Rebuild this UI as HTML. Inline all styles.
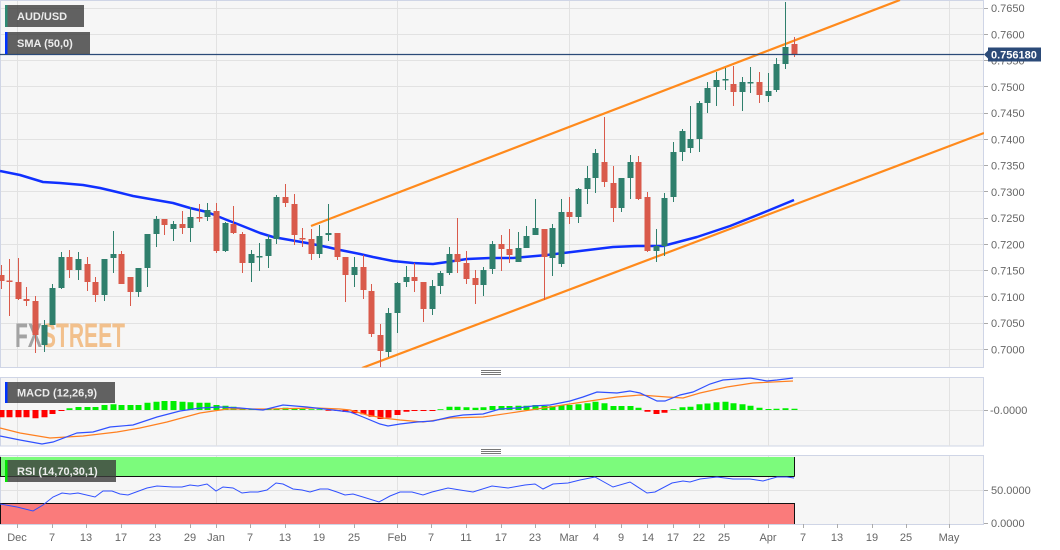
<!DOCTYPE html>
<html><head><meta charset="utf-8"><style>
html,body{margin:0;padding:0;background:#fff;}
svg{display:block;font-family:"Liberation Sans",Arial,sans-serif;}
</style></head><body>
<svg width="1060" height="550" viewBox="0 0 1060 550" xmlns="http://www.w3.org/2000/svg">
<defs>
<clipPath id="cm"><rect x="0" y="0" width="984" height="367.5"/></clipPath>
<clipPath id="cd"><rect x="0" y="377.5" width="984" height="68.5"/></clipPath>
<clipPath id="cr"><rect x="0" y="455.5" width="984" height="69"/></clipPath>
</defs>
<rect x="0" y="0" width="1060" height="550" fill="#fff"/>
<!-- panel backgrounds -->
<rect x="0.5" y="0.5" width="983" height="367" fill="#f6f6f6" stroke="#cfd5e6"/>
<rect x="0.5" y="377.5" width="983" height="68.5" fill="#f6f6f6" stroke="#cfd5e6"/>
<rect x="0.5" y="455.5" width="983" height="69" fill="#f6f6f6" stroke="#cfd5e6"/>
<!-- grid main -->
<g stroke="#e2e2e2" stroke-width="1">
<path d="M1 8.5H983M1 34.5H983M1 60.5H983M1 86.5H983M1 113.5H983M1 139.5H983M1 165.5H983M1 191.5H983M1 218.5H983M1 244.5H983M1 270.5H983M1 296.5H983M1 323.5H983M1 349.5H983"/>
<path d="M17.5 1V367M216.5 1V367M397.5 1V367M569.5 1V367M768.5 1V367M949.5 1V367"/>
<path d="M1 410.5H983M17.5 378V446M216.5 378V446M397.5 378V446M569.5 378V446M768.5 378V446M949.5 378V446"/>
<path d="M1 490.5H983M17.5 456V524M216.5 456V524M397.5 456V524M569.5 456V524M768.5 456V524M949.5 456V524"/>
</g>
<!-- watermark -->
<text x="15" y="347" font-size="34" font-weight="bold" textLength="110" lengthAdjust="spacingAndGlyphs"><tspan fill="#a3a3a3">FX</tspan><tspan fill="#f2c08c">STREET</tspan></text>
<g clip-path="url(#cm)">
<!-- SMA -->
<polyline fill="none" stroke="#1030ff" stroke-width="2.5" stroke-linejoin="round" points="0,171 20,175 43,182 60,183 83,185 100,188 117,192 133,196 150,199 173,203 190,208 207,212 227,220 240,225 250,229 260,233 273,237 290,240 307,243 327,247 340,250 360,254 373,257 393,261 413,263 433,264 447,262 467,259 490,258 513,258 547,255 580,251 613,247 637,246 663,246 697,237 730,226 760,214 794,200"/>
<!-- channel -->
<path d="M311 226L900 0M362 368L984 133" stroke="#ff8a1c" stroke-width="2.2" fill="none"/>
<!-- green candles -->
<path stroke="#2f7f6c" stroke-width="1" fill="none" d="M44.5 320V352M52.5 284V325M61.5 252V289M78.5 252V280M104.5 259V301M113.5 231V273M138.5 268V297M147.5 234V287M156.5 216V247M173.5 221V241M190.5 207V242M207.5 203V221M225.5 222V252M251.5 250V282M259.5 243V271M268.5 235V268M276.5 195V244M319.5 225V258M328.5 204V241M354.5 257V287M388.5 308V357M397.5 282V333M406.5 266V287M432.5 280V315M440.5 271V294M449.5 247V275M483.5 267V296M492.5 241V274M518.5 232V262M526.5 226V248M535.5 199V235M552.5 224V276M561.5 199V267M578.5 188V223M587.5 166V204M595.5 149V193M621.5 178V212M630.5 155V199M656.5 229V262M664.5 193V256M673.5 142V202M682.5 129V161M690.5 106V153M699.5 101V152M707.5 82V113M716.5 72V106M725.5 68V90M742.5 77V111M750.5 67V93M768.5 73V102M776.5 58V92M785.5 2V69"/>
<path fill="#2f7f6c" d="M41.5 325h6v20h-6zM49.5 288h6v37h-6zM58.5 257h6v31h-6zM75.5 259h6v11h-6zM101.5 259h6v36h-6zM110.5 254h6v4h-6zM135.5 268h6v24h-6zM144.5 234h6v34h-6zM153.5 219h6v15h-6zM170.5 224h6v5h-6zM187.5 217h6v11h-6zM204.5 210h6v7h-6zM222.5 223h6v28h-6zM248.5 254h6v9h-6zM256.5 256h6v1.5h-6zM265.5 239h6v17h-6zM273.5 197h6v42h-6zM316.5 236h6v18h-6zM325.5 233h6v2h-6zM351.5 267h6v8h-6zM385.5 313h6v39h-6zM394.5 283h6v30h-6zM403.5 277h6v5h-6zM429.5 286h6v23h-6zM437.5 273h6v13h-6zM446.5 254h6v19h-6zM480.5 270h6v15h-6zM489.5 244h6v25h-6zM515.5 248h6v14h-6zM523.5 236h6v12h-6zM532.5 228h6v7h-6zM549.5 228h6v30h-6zM558.5 212h6v52h-6zM575.5 189h6v28h-6zM584.5 178h6v11h-6zM592.5 153h6v25h-6zM618.5 178h6v30h-6zM627.5 162h6v16h-6zM653.5 246h6v5h-6zM661.5 198h6v48h-6zM670.5 152h6v45h-6zM679.5 131h6v21h-6zM687.5 139h6v9h-6zM696.5 103h6v36h-6zM704.5 88h6v15h-6zM713.5 80h6v7h-6zM722.5 79h6v1.5h-6zM739.5 82h6v10h-6zM747.5 82h6v1.5h-6zM765.5 91h6v5h-6zM773.5 64h6v26h-6zM782.5 47h6v17h-6z"/>
<!-- red candles -->
<path stroke="#d95a4b" stroke-width="1" fill="none" d="M1.5 265V289M9.5 259V316M18.5 258V300M26.5 287V306M35.5 296V353M69.5 250V278M87.5 257V291M95.5 277V302M121.5 251V284M130.5 277V306M164.5 219V235M182.5 211V234M199.5 204V222M216.5 203V253M233.5 206V234M242.5 232V273M285.5 184V207M294.5 194V245M302.5 228V247M311.5 229V260M337.5 233V260M345.5 257V302M363.5 255V299M371.5 284V337M380.5 324V367M414.5 263V292M423.5 282V322M457.5 218V273M466.5 251V284M475.5 270V304M501.5 235V271M509.5 229V263M544.5 229V300M569.5 197V224M604.5 117V187M613.5 166V222M638.5 156V200M647.5 192V252M733.5 66V106M759.5 72V103M794.5 37V57"/>
<path fill="#d95a4b" d="M-1.5 275h6v6h-6zM6.5 280.5h6v1.5h-6zM15.5 282h6v17h-6zM23.5 299h6v2h-6zM32.5 301h6v34h-6zM66.5 257h6v13h-6zM84.5 264h6v18h-6zM92.5 282h6v13h-6zM118.5 254h6v30h-6zM127.5 277h6v15h-6zM161.5 219h6v6h-6zM179.5 224h6v4h-6zM196.5 217h6v1.5h-6zM213.5 211h6v40h-6zM230.5 224h6v9h-6zM239.5 234h6v29h-6zM282.5 197h6v6h-6zM291.5 204h6v31h-6zM299.5 238h6v1.5h-6zM308.5 239h6v15h-6zM334.5 233h6v24h-6zM342.5 257h6v18h-6zM360.5 267h6v23h-6zM368.5 291h6v43h-6zM377.5 335h6v16h-6zM411.5 277h6v4h-6zM420.5 282h6v27h-6zM454.5 254h6v8h-6zM463.5 263h6v16h-6zM472.5 278h6v7h-6zM498.5 244h6v5h-6zM506.5 249h6v6h-6zM541.5 229h6v28h-6zM566.5 212h6v5h-6zM601.5 162h6v20h-6zM610.5 183h6v25h-6zM635.5 162h6v37h-6zM644.5 197h6v54h-6zM730.5 84h6v8h-6zM756.5 82h6v13h-6zM791.5 44h6v10h-6z"/>
</g>
<!-- current price line -->
<path d="M0 54.5H984" stroke="#2b4a78" stroke-width="1.3"/>
<!-- legends main -->
<rect x="5" y="5" width="79" height="22" fill="rgba(60,60,60,0.8)"/>
<rect x="5" y="5" width="2.5" height="22" fill="#2e8b74"/>
<text x="17" y="20" font-size="11" font-weight="bold" fill="#ececec">AUD/USD</text>
<rect x="5" y="32" width="85" height="22" fill="rgba(60,60,60,0.8)"/>
<rect x="5" y="32" width="2.5" height="22" fill="#0033ff"/>
<text x="17" y="47" font-size="11" font-weight="bold" fill="#ececec">SMA (50,0)</text>
<!-- MACD -->
<g clip-path="url(#cd)">
<path fill="#00ee00" d="M66.5 408.3h6V410h-6zM75.5 407h6V410h-6zM84.5 407h6V410h-6zM92.5 407h6V410h-6zM101.5 405h6V410h-6zM110.5 404.3h6V410h-6zM118.5 405h6V410h-6zM127.5 405h6V410h-6zM135.5 405h6V410h-6zM144.5 402.7h6V410h-6zM153.5 401.7h6V410h-6zM161.5 401h6V410h-6zM170.5 401h6V410h-6zM179.5 401.7h6V410h-6zM187.5 402.3h6V410h-6zM196.5 402.7h6V410h-6zM204.5 402.7h6V410h-6zM213.5 405h6V410h-6zM222.5 405.7h6V410h-6zM230.5 406.7h6V410h-6zM239.5 408.3h6V410h-6zM248.5 409h6V410h-6zM256.5 409.3h6V410h-6zM265.5 409.3h6V410h-6zM273.5 408.5h6V410h-6zM282.5 407.7h6V410h-6zM291.5 408.3h6V410h-6zM299.5 409h6V410h-6zM308.5 409.3h6V410h-6zM316.5 409.3h6V410h-6zM437.5 409.3h6V410h-6zM446.5 406.7h6V410h-6zM454.5 406.7h6V410h-6zM463.5 407.3h6V410h-6zM472.5 407.7h6V410h-6zM480.5 407.3h6V410h-6zM489.5 406h6V410h-6zM498.5 406h6V410h-6zM506.5 406h6V410h-6zM515.5 405.7h6V410h-6zM523.5 405.7h6V410h-6zM532.5 405h6V410h-6zM541.5 406h6V410h-6zM549.5 406h6V410h-6zM558.5 405h6V410h-6zM566.5 405h6V410h-6zM575.5 404.3h6V410h-6zM584.5 403.3h6V410h-6zM592.5 401.7h6V410h-6zM601.5 403.3h6V410h-6zM610.5 406h6V410h-6zM618.5 406h6V410h-6zM627.5 406h6V410h-6zM635.5 407.7h6V410h-6zM670.5 409.3h6V410h-6zM679.5 407.3h6V410h-6zM687.5 406.7h6V410h-6zM696.5 404.3h6V410h-6zM704.5 403.5h6V410h-6zM713.5 402.3h6V410h-6zM722.5 401.7h6V410h-6zM730.5 403.3h6V410h-6zM739.5 404.3h6V410h-6zM747.5 405.7h6V410h-6zM756.5 407.7h6V410h-6zM765.5 409h6V410h-6zM773.5 408.7h6V410h-6zM782.5 408.3h6V410h-6zM791.5 408.7h6V410h-6z"/>
<path fill="#ff0000" d="M-1.5 410h6V417.3h-6zM6.5 410h6V417.3h-6zM15.5 410h6V417.3h-6zM23.5 410h6V417.3h-6zM32.5 410h6V418.3h-6zM41.5 410h6V417.3h-6zM49.5 410h6V414h-6zM58.5 410h6V411h-6zM325.5 410h6V410.7h-6zM334.5 410h6V411h-6zM342.5 410h6V412h-6zM351.5 410h6V413.3h-6zM360.5 410h6V414.3h-6zM368.5 410h6V416.7h-6zM377.5 410h6V419h-6zM385.5 410h6V417.7h-6zM394.5 410h6V415h-6zM403.5 410h6V411.7h-6zM411.5 410h6V411h-6zM420.5 410h6V411h-6zM429.5 410h6V411h-6zM644.5 410h6V411.7h-6zM653.5 410h6V414h-6zM661.5 410h6V412.7h-6z"/>
<polyline fill="none" stroke="#ff8020" stroke-width="1.2" points="0,428 20,433 50,438 83,436 117,432 140,428 167,422 200,413 227,409 267,409 317,408 340,409 350,410 367,415 383,418 400,420 423,422 450,418 483,417 517,412 550,407 583,402 617,397 640,395 667,397 683,398 700,393 727,387 753,383 793,381"/>
<polyline fill="none" stroke="#3050ff" stroke-width="1.2" points="0,436 20,440 42,444 53,442 77,433 93,432 110,427 133,425 157,417 180,411 200,408 220,407 240,408 263,410 283,405 307,407 333,410 350,412 363,417 380,424 388,426 400,424 417,422 433,421 450,417 463,415 483,414 500,409 517,408 533,406 550,405 570,401 583,397 597,392 617,393 630,391 640,393 657,401 665,401 680,395 693,392 710,384 723,380 750,378 767,381 777,380 793,378"/>
</g>
<rect x="5" y="382" width="110" height="21" fill="rgba(60,60,60,0.8)"/>
<rect x="5" y="382" width="2.5" height="21" fill="#0033ff"/>
<text x="17" y="396.5" font-size="11" font-weight="bold" fill="#ececec">MACD (12,26,9)</text>
<!-- RSI -->
<g clip-path="url(#cr)">
<rect x="0" y="457" width="794.5" height="19.5" fill="#7cfb7c"/>
<rect x="0" y="503" width="794.5" height="21" fill="#fa7b7b"/>
<path d="M0 476.5H794.5M0 503.5H794.5M794.5 457V476.5M794.5 503V524M0.5 457V476.5M0.5 503V524" stroke="#111" stroke-width="1" fill="none"/>
<polyline fill="none" stroke="#3050ff" stroke-width="1" points="0,504 17,507 33,511 43,505 53,497 62,493 70,494 78,493 95,497 103,491 112,491 120,494 128,495 147,488 157,486 173,487 182,487 190,485 198,486 207,484 216,491 223,487 233,488 242,493 250,492 258,492 267,490 276,483 283,484 293,489 302,490 310,492 320,489 328,489 337,492 345,495 353,494 363,497 379,502 390,496 400,492 412,492 423,495 432,492 448,488 460,490 473,492 492,486 508,488 525,485 535,484 543,489 553,484 568,483 580,480 595,477 613,487 630,482 647,493 655,492 672,483 683,481 690,482 700,479 717,477 733,479 750,479 763,481 777,477 787,477 794,478"/>
</g>
<rect x="5" y="460" width="111" height="22" fill="rgba(60,60,60,0.8)"/>
<rect x="5" y="460" width="2.5" height="22" fill="#00e600"/>
<text x="17" y="475" font-size="11" font-weight="bold" fill="#ececec">RSI (14,70,30,1)</text>
<!-- grips -->
<path d="M481 370.5H501M481 372.5H501M481 374.5H501M481 449.5H501M481 451.5H501M481 453.5H501" stroke="#777" stroke-width="1"/>
<!-- y ticks -->
<path stroke="#aaa" stroke-width="1" d="M984 8.5h4M984 34.5h4M984 60.5h4M984 86.5h4M984 113.5h4M984 139.5h4M984 165.5h4M984 191.5h4M984 218.5h4M984 244.5h4M984 270.5h4M984 296.5h4M984 323.5h4M984 349.5h4M984 410.5h4M984 490.5h4M984 523.5h4"/>
<g font-size="11" fill="#666">
<text x="991" y="12">0.7650</text>
<text x="991" y="38.3">0.7600</text>
<text x="991" y="64.5">0.7550</text>
<text x="991" y="90.8">0.7500</text>
<text x="991" y="117">0.7450</text>
<text x="991" y="143.3">0.7400</text>
<text x="991" y="169.5">0.7350</text>
<text x="991" y="195.8">0.7300</text>
<text x="991" y="222">0.7250</text>
<text x="991" y="248.3">0.7200</text>
<text x="991" y="274.5">0.7150</text>
<text x="991" y="300.8">0.7100</text>
<text x="991" y="327">0.7050</text>
<text x="991" y="353.3">0.7000</text>
<text x="990" y="414">-0.0000</text>
<text x="991" y="494">50.0000</text>
<text x="991" y="527">0.0000</text>
</g>
<!-- price label -->
<path d="M984 54.5L988 50.5V47.5H1041V61.5H988V58.5Z" fill="#2b4a78"/>
<text x="991" y="58.5" font-size="11" font-weight="bold" fill="#fff">0.756180</text>
<!-- x ticks -->
<path stroke="#aaa" stroke-width="1" d="M17.5 524v4M52.5 524v4M86.5 524v4M121.5 524v4M155.5 524v4M190.5 524v4M216.5 524v4M250.5 524v4M285.5 524v4M319.5 524v4M354.5 524v4M397.5 524v4M431.5 524v4M466.5 524v4M501.5 524v4M535.5 524v4M569.5 524v4M595.5 524v4M621.5 524v4M647.5 524v4M673.5 524v4M699.5 524v4M724.5 524v4M768.5 524v4M803.5 524v4M837.5 524v4M872.5 524v4M906.5 524v4M949.5 524v4"/>
<g font-size="11" fill="#666" text-anchor="middle">
<text x="17" y="541">Dec</text>
<text x="52" y="541">7</text>
<text x="86" y="541">13</text>
<text x="121" y="541">17</text>
<text x="155" y="541">23</text>
<text x="190" y="541">29</text>
<text x="216" y="541">Jan</text>
<text x="250" y="541">7</text>
<text x="285" y="541">13</text>
<text x="319" y="541">19</text>
<text x="354" y="541">25</text>
<text x="397" y="541">Feb</text>
<text x="431" y="541">7</text>
<text x="466" y="541">11</text>
<text x="501" y="541">17</text>
<text x="535" y="541">23</text>
<text x="569" y="541">Mar</text>
<text x="596" y="541">4</text>
<text x="621" y="541">9</text>
<text x="648" y="541">14</text>
<text x="673" y="541">17</text>
<text x="699" y="541">22</text>
<text x="724" y="541">25</text>
<text x="768" y="541">Apr</text>
<text x="803" y="541">7</text>
<text x="837" y="541">13</text>
<text x="872" y="541">19</text>
<text x="906" y="541">25</text>
<text x="949" y="541">May</text>
</g>
</svg>
</body></html>
